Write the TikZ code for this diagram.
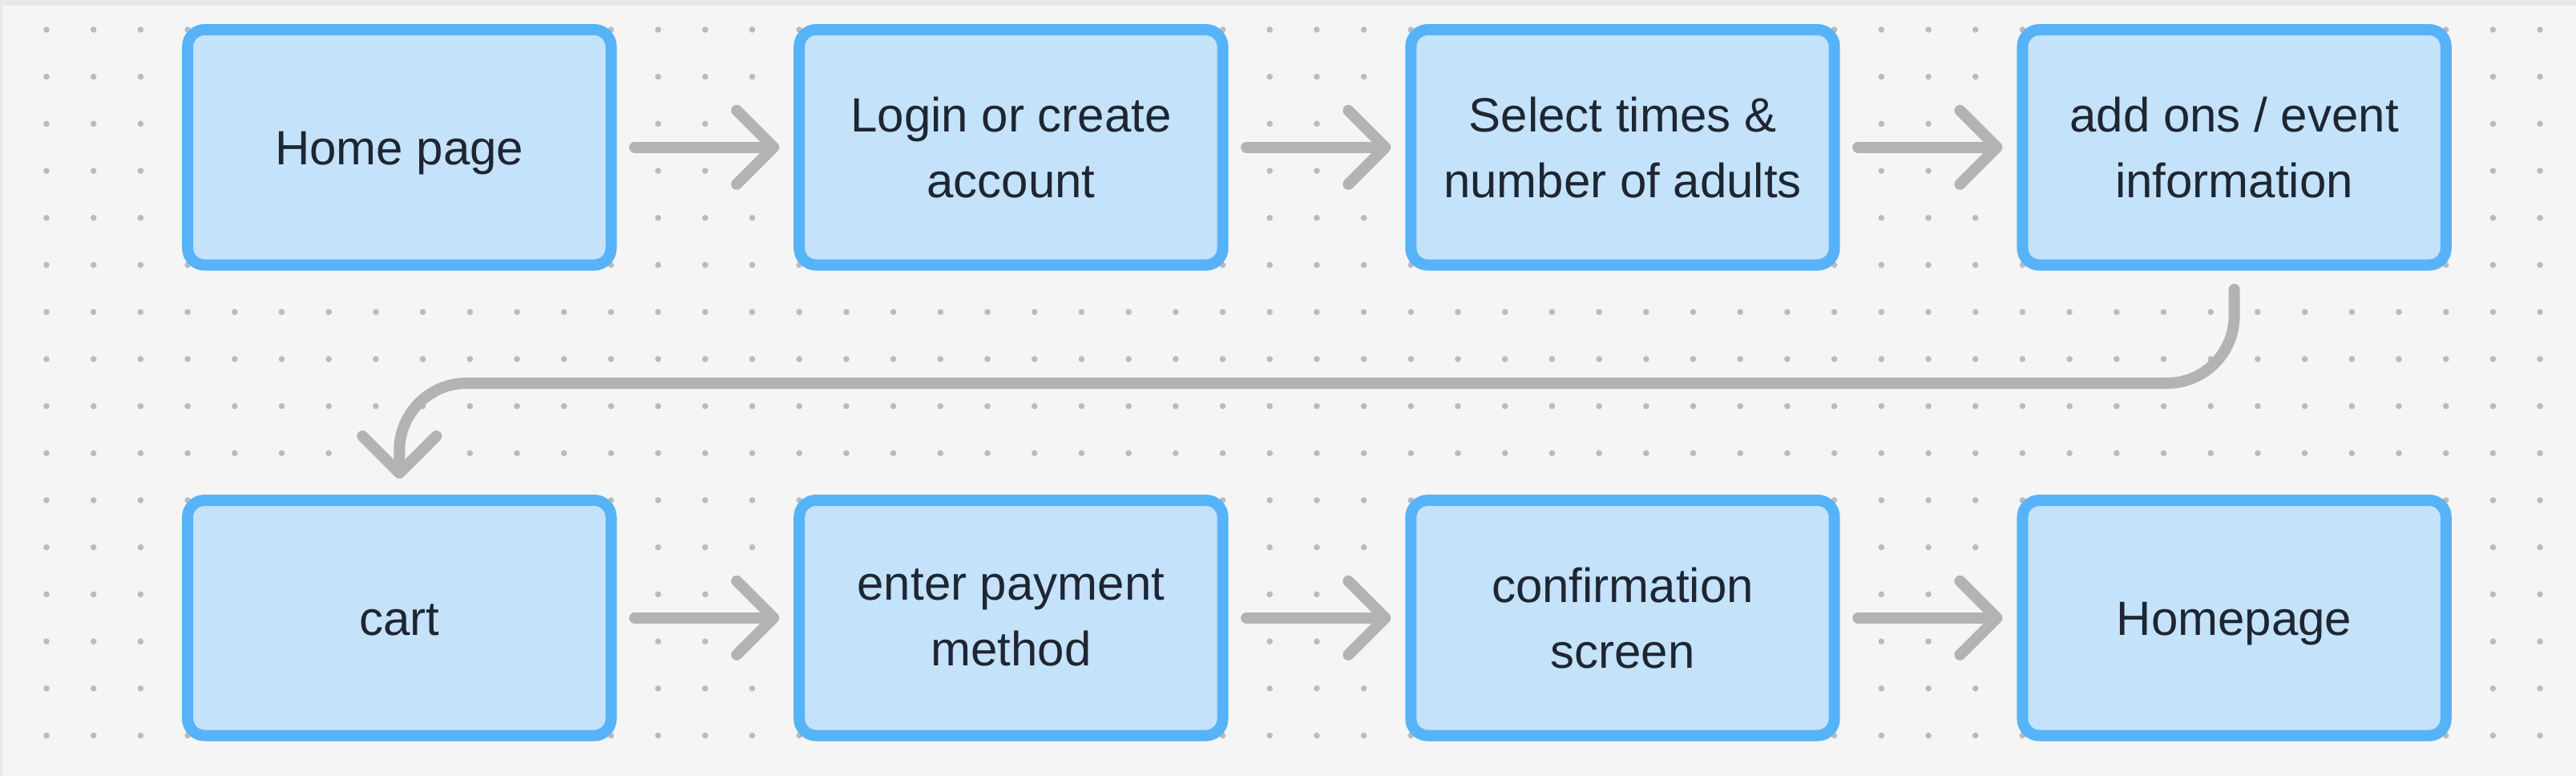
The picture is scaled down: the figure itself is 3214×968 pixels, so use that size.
\documentclass[tikz,border=0pt]{standalone}
\usepackage{fontspec}
\setmainfont{Liberation Sans}
\usetikzlibrary{arrows.meta}
\definecolor{boardbg}{HTML}{F5F5F5}
\definecolor{boardedge}{HTML}{E8E8E8}
\definecolor{dotgrey}{HTML}{BBBBBB}
\definecolor{boxfill}{HTML}{C4E2FA}
\definecolor{boxline}{HTML}{56B3F8}
\definecolor{flowgrey}{HTML}{B3B3B3}
\definecolor{labeltext}{HTML}{1E2632}

\begin{document}
\begin{tikzpicture}[x=0.5pt, y=-0.5pt,
    stepbox/.style={draw=boxline, fill=boxfill, line width=7pt, rounded corners=10.5pt,
      minimum width=264.2pt, minimum height=146.75pt, inner sep=0pt,
      align=center, text=labeltext, font=\fontsize{30}{41}\selectfont},
    oneline/.style={text height=21.5pt, text depth=0pt},
    flowline/.style={draw=flowgrey, line width=7pt, line cap=round,
      -{Straight Barb[length=23pt, width=46pt, round]},
      shorten <=11.25pt, shorten >=9pt}]
  % board background with dot grid
  \useasboundingbox (0,0) rectangle (3214,968);
  \fill[boardbg] (0,0) rectangle (3214,968);
  \fill[boardedge] (0,0) rectangle (3214,7);
  \fill[boardedge] (0,0) rectangle (3,968);
  \foreach \i in {0,...,53}
    \foreach \j in {0,...,15}
      \fill[dotgrey] (58+58.7*\i, 37+58.7*\j) circle (1.9pt);
  % first row of steps
  \node[stepbox, oneline] (box_home) at (498.3,183.8) {Home page};
  \node[stepbox] (box_login) at (1261.4,183.8) {Login or create\\account};
  \node[stepbox] (box_times) at (2024.5,183.8) {Select times \&\\number of adults};
  \node[stepbox] (box_addons) at (2787.6,183.8) {add ons / event\\information};
  % second row of steps
  \node[stepbox, oneline] (box_cart) at (498.3,770.8) {cart};
  \node[stepbox] (box_payment) at (1261.4,770.8) {enter payment\\method};
  \node[stepbox] (box_confirm) at (2024.5,770.8) {confirmation\\screen};
  \node[stepbox, oneline] (box_homepage) at (2787.6,770.8) {Homepage};
  % arrows between the steps
  \draw[flowline] (box_home) -- (box_login);
  \draw[flowline] (box_login) -- (box_times);
  \draw[flowline] (box_times) -- (box_addons);
  \draw[flowline] (box_cart) -- (box_payment);
  \draw[flowline] (box_payment) -- (box_confirm);
  \draw[flowline] (box_confirm) -- (box_homepage);
  % wrap round to the second row
  \coordinate (row_turn) at (0,478);
  \draw[flowline, rounded corners=42pt, shorten <=11.75pt, shorten >=10pt]
    (box_addons.south) -- (box_addons.south |- row_turn)
    -- (box_cart.north |- row_turn) -- (box_cart.north);
\end{tikzpicture}
\end{document}
